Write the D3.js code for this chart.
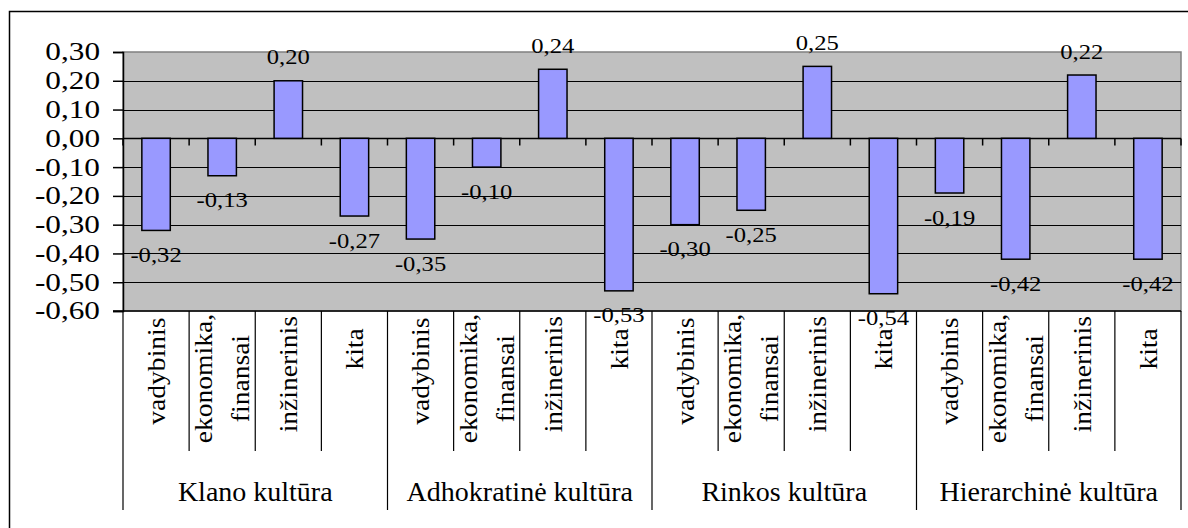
<!DOCTYPE html>
<html>
<head>
<meta charset="utf-8">
<script src="https://cdn.jsdelivr.net/npm/d3@7"></script>
<style>
  html, body { margin: 0; padding: 0; background: #fff; }
  svg { display: block; }
</style>
</head>
<body>
<svg id="chart" width="1188" height="528" font-family="'Liberation Serif', 'DejaVu Serif', 'Times New Roman', serif"></svg>
<script>
// Culture types (outer level of the category axis)
const groups = ["Klano kultūra", "Adhokratinė kultūra", "Rinkos kultūra", "Hierarchinė kultūra"];
// Education fields (inner level); "\n" splits a label over two lines
const fields = ["vadybinis", "ekonomika,\nfinansai", "inžinerinis", "kita"];
// One value per field, per culture type
const klano = [-0.32, -0.13, 0.20, -0.27];
const adhokratine = [-0.35, -0.10, 0.24, -0.53];
const rinkos = [-0.30, -0.25, 0.25, -0.54];
const hierarchine = [-0.19, -0.42, 0.22, -0.42];
const seriesByGroup = [klano, adhokratine, rinkos, hierarchine];
// Value axis ticks
const yTicks = [0.30, 0.20, 0.10, 0.00, -0.10, -0.20, -0.30, -0.40, -0.50, -0.60];

const FONT = "'Liberation Serif', 'DejaVu Serif', 'Times New Roman', serif";
const fmt = v => (v < 0 ? "-" : "") + Math.abs(v).toFixed(2).replace(".", ",");

const svg = d3.select("#chart");
const plot = { left: 123, right: 1181, top: 52, bottom: 311 };

// Outer chart frame
svg.append("rect")
  .attr("x", 9.5).attr("y", 11.5)
  .attr("width", 1200).attr("height", 540)
  .attr("fill", "#fff").attr("stroke", "#000").attr("stroke-width", 1.5);

const y = d3.scaleLinear().domain([-0.6, 0.3]).range([plot.bottom, plot.top]);
const xGroup = d3.scaleBand().domain(d3.range(groups.length)).range([plot.left, plot.right]);
const xField = d3.scaleBand().domain(d3.range(fields.length)).range([0, xGroup.bandwidth()]);
const catLeft = (g, f) => xGroup(g) + xField(f);
const catW = xField.bandwidth();
const barW = catW * 0.43;

// Plot area background
svg.append("rect")
  .attr("x", plot.left).attr("y", plot.top)
  .attr("width", plot.right - plot.left).attr("height", plot.bottom - plot.top)
  .attr("fill", "#c0c0c0").attr("stroke", "#808080").attr("stroke-width", 1.5);

// Horizontal gridlines
svg.append("g").selectAll("line").data(yTicks.filter(t => t < 0.3 && t > -0.6))
  .join("line")
  .attr("x1", plot.left).attr("x2", plot.right)
  .attr("y1", d => Math.round(y(d)) + 0.5).attr("y2", d => Math.round(y(d)) + 0.5)
  .attr("stroke", "#000").attr("stroke-width", 1);

// Value axis
const yAxis = svg.append("g").attr("transform", `translate(${plot.left},0)`)
  .call(d3.axisLeft(y).tickValues(yTicks).tickSize(10).tickFormat(""));
yAxis.select(".domain").attr("stroke", "#000").attr("stroke-width", 1.5);
yAxis.selectAll(".tick line").attr("stroke", "#000").attr("stroke-width", 1.5);

// Text stretched along its reading direction
function stretchedText(sel, x, yy, rot, sx) {
  sel.attr("transform", `translate(${x},${yy}) rotate(${rot}) scale(${sx},1)`);
}

// Value axis labels
svg.append("g").selectAll("text").data(yTicks).join("text")
  .attr("font-family", FONT)
  .attr("text-anchor", "end")
  .attr("dominant-baseline", "central")
  .attr("font-size", 25)
  .text(fmt)
  .each(function (d) { stretchedText(d3.select(this), 100, y(d), 0, 1.25); });

// Zero line with small category ticks
const zeroY = Math.round(y(0)) + 0.5;
svg.append("line")
  .attr("x1", plot.left).attr("x2", plot.right)
  .attr("y1", zeroY).attr("y2", zeroY)
  .attr("stroke", "#000").attr("stroke-width", 1.5);
const boundaries = [];
groups.forEach((g, gi) => fields.forEach((f, fi) => boundaries.push(catLeft(gi, fi))));
boundaries.push(plot.right);
svg.append("g").selectAll("line").data(boundaries).join("line")
  .attr("x1", d => d).attr("x2", d => d)
  .attr("y1", zeroY).attr("y2", zeroY + 7)
  .attr("stroke", "#000").attr("stroke-width", 1.5);

// Bars
const flat = [];
seriesByGroup.forEach((vals, gi) => vals.forEach((v, fi) => flat.push({ gi, fi, v })));
svg.append("g").selectAll("rect").data(flat).join("rect")
  .attr("x", d => catLeft(d.gi, d.fi) + (catW - barW) / 2)
  .attr("y", d => y(Math.max(0, d.v)))
  .attr("width", barW)
  .attr("height", d => Math.abs(y(d.v) - y(0)))
  .attr("fill", "#9999ff").attr("stroke", "#000").attr("stroke-width", 1.5);

// Value labels beyond each bar end
svg.append("g").selectAll("text").data(flat).join("text")
  .attr("font-family", FONT)
  .attr("text-anchor", "middle")
  .attr("dominant-baseline", "central")
  .attr("font-size", 22)
  .text(d => fmt(d.v))
  .each(function (d) {
    const cx = catLeft(d.gi, d.fi) + catW / 2;
    const cy = y(d.v) + (d.v < 0 ? 24 : -24);
    stretchedText(d3.select(this), cx, cy, 0, 1.12);
  });

// Category table below the plot
const tableTop = plot.bottom;
svg.append("line")
  .attr("x1", 113).attr("x2", plot.right)
  .attr("y1", tableTop).attr("y2", tableTop)
  .attr("stroke", "#000").attr("stroke-width", 1.5);
// inner dividers
const inner = [];
groups.forEach((g, gi) => fields.forEach((f, fi) => { if (fi > 0) inner.push(catLeft(gi, fi)); }));
svg.append("g").selectAll("line").data(inner).join("line")
  .attr("x1", d => d).attr("x2", d => d)
  .attr("y1", tableTop).attr("y2", 451)
  .attr("stroke", "#000").attr("stroke-width", 1.2);
// group dividers
const outer = groups.map((g, gi) => xGroup(gi)).concat([plot.right]);
svg.append("g").selectAll("line").data(outer).join("line")
  .attr("x1", d => d).attr("x2", d => d)
  .attr("y1", tableTop).attr("y2", 510)
  .attr("stroke", "#000").attr("stroke-width", 1.2);

// Field labels, rotated to read upwards; longer labels start a little higher
const fieldSize = 26, fieldStretch = 1.06, lineGap = 37;
const catG = svg.append("g");
groups.forEach((g, gi) => fields.forEach((f, fi) => {
  const lines = f.split("\n");
  const cx = catLeft(gi, fi) + catW / 2;
  const t = catG.append("text")
    .attr("font-family", FONT)
    .attr("text-anchor", "middle")
    .attr("font-size", fieldSize);
  lines.forEach((ln, li) => {
    t.append("tspan").attr("x", 0)
      .attr("y", (li - (lines.length - 1) / 2) * lineGap)
      .attr("dominant-baseline", "central")
      .text(ln);
  });
  const longest = d3.max(t.selectAll("tspan").nodes(), n => n.getComputedTextLength()) * fieldStretch;
  const top = 335 - 0.163 * longest;
  stretchedText(t, cx, top + longest / 2, -90, fieldStretch);
}));

// Culture type labels
svg.append("g").selectAll("text").data(groups).join("text")
  .attr("font-family", FONT)
  .attr("x", (d, i) => xGroup(i) + xGroup.bandwidth() / 2)
  .attr("y", 501)
  .attr("text-anchor", "middle")
  .attr("font-size", 28)
  .text(d => d);
</script>
</body>
</html>
